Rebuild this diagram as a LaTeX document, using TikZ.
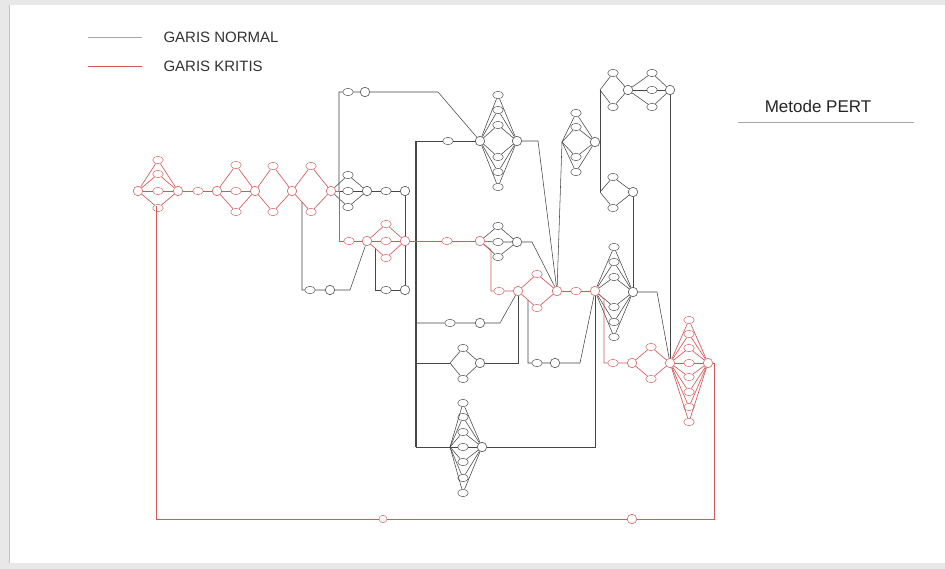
\documentclass[tikz,border=0pt]{standalone}
\usepackage{fontspec}
\setmainfont{Liberation Sans}
\usepackage{tikz}
\usetikzlibrary{shapes.geometric}

\definecolor{critred}{RGB}{212,88,88}
\definecolor{normline}{RGB}{70,70,70}

\tikzset{
    event/.style={
        circle,
        draw=normline,
        fill=white,
        line width=0.55pt,
        minimum size=9.5pt,
        inner sep=0pt
    },
    activity/.style={
        ellipse,
        draw=normline,
        fill=white,
        line width=0.45pt,
        minimum width=10.5pt,
        minimum height=7.5pt,
        inner sep=0pt
    },
    crit/.style={
        draw=critred
    },
    normal/.style={
        draw=normline,
        line width=0.55pt
    },
    critical/.style={
        draw=critred,
        line width=0.65pt
    },
    spine/.style={
        draw=normline,
        line width=1.2pt
    }
}

\begin{document}
\begin{tikzpicture}[x=1pt, y=-1pt]
\useasboundingbox (0,0) rectangle (945,569);
\fill[gray!18] (0,0) rectangle (945,569);
\fill[white] (10,5) rectangle (945,563);
\draw[gray!50] (9.5,5) -- (9.5,563);

% legend
\coordinate (ln1a) at (88,37);
\coordinate (ln1b) at (142,37);
\coordinate (ln2a) at (88,66);
\coordinate (ln2b) at (142,66);
\draw[normal, draw=gray!70] (ln1a) -- (ln1b);
\draw[critical] (ln2a) -- (ln2b);
\node[anchor=west, text=black!80, font=\fontsize{15}{18}\selectfont] (lgnormal) at (160,37) {GARIS NORMAL};
\node[anchor=west, text=black!80, font=\fontsize{15}{18}\selectfont] (lgkritis) at (160,66) {GARIS KRITIS};
\node[text=black!85, font=\fontsize{17}{20}\selectfont] (title) at (818,106) {Metode PERT};
\coordinate (ul1) at (738,122);
\coordinate (ul2) at (914,122);
\draw[gray!70, line width=0.7pt] (ul1) -- (ul2);

% critical chain
\node[event,crit] (e1) at (138,191) {};
\foreach \n/\y in {1/160,2/174,3/191,4/208}
    \node[activity,crit] (A\n) at (158,\y) {};
\node[event,crit] (e2) at (178,191) {};
\node[activity,crit] (ac1) at (198,191) {};
\node[event,crit] (e3) at (217,191) {};
\foreach \n/\y in {1/165,2/191,3/212}
    \node[activity,crit] (B\n) at (236,\y) {};
\node[event,crit] (e4) at (255,191) {};
\foreach \n/\y in {1/166,2/212}
    \node[activity,crit] (C\n) at (273,\y) {};
\node[event,crit] (e5) at (292,191) {};
\foreach \n/\y in {1/166,2/212}
    \node[activity,crit] (D\n) at (311,\y) {};
\node[event,crit] (e6) at (331,191) {};
\coordinate (k9) at (339,191);
\coordinate (k1) at (339,241);
\node[activity,crit] (ac2) at (349,241) {};
\node[event,crit] (e7) at (367,241) {};
\foreach \n/\y in {1/224,2/241,3/258}
    \node[activity,crit] (E\n) at (386,\y) {};
\node[event,crit] (e8) at (405,241) {};
\node[activity,crit] (ac3) at (447,241) {};
\node[event,crit] (e9) at (480,241) {};
\coordinate (k2a) at (491,250);
\coordinate (k2) at (491,291);
\node[activity,crit] (ac4) at (499,291) {};
\node[event,crit] (e10) at (518,291) {};
\foreach \n/\y in {1/274,2/308}
    \node[activity,crit] (F\n) at (537,\y) {};
\node[event,crit] (e11) at (557,291) {};
\node[activity,crit] (ac5) at (576,291) {};
\node[event,crit] (e12) at (595,291) {};
\coordinate (k30) at (604,299);
\coordinate (k3) at (604,363);
\node[activity,crit] (ac6) at (613,363) {};
\node[event,crit] (e13) at (632,363) {};
\foreach \n/\y in {1/347,2/379}
    \node[activity,crit] (G\n) at (651,\y) {};
\node[event,crit] (e14) at (670,363) {};
\foreach \n/\y in {1/320,2/334,3/348,4/363,5/377,6/392,7/407,8/422}
    \node[activity,crit] (H\n) at (689,\y) {};
\node[event,crit] (e15) at (708,363) {};
\coordinate (k4) at (714,519);
\node[event,crit] (e33) at (632,519) {};
\node[activity,crit, minimum width=8pt] (ac7) at (383,519) {};
\coordinate (k5) at (156,519);
\coordinate (k6) at (156,206);

% normal chain
\foreach \n/\y in {1/175,2/191,3/207}
    \node[activity] (I\n) at (348,\y) {};
\node[event] (e16) at (367,191) {};
\node[activity] (ac8) at (386,191) {};
\node[event] (e17) at (405,191) {};
\coordinate (k7) at (339,92);
\node[activity] (ac9) at (348,92) {};
\node[event] (e18) at (365,92) {};
\coordinate (k8) at (438,92);
\coordinate (k10) at (302,202);
\coordinate (k11) at (302,290);
\node[activity] (ac10) at (310,290) {};
\node[event] (e20) at (330,290) {};
\coordinate (k12) at (350,290);
\coordinate (k13) at (375,248);
\coordinate (k14) at (375,290);
\node[activity] (ac11) at (386,290) {};
\node[event] (e21) at (405,290) {};
\coordinate (s1) at (416,141);
\coordinate (s2) at (416,323);
\coordinate (s3) at (416,363);
\coordinate (s4) at (416,447);
\node[activity] (ac12) at (448,141) {};
\node[event] (e19) at (480,141) {};
\foreach \n/\y in {1/95,2/110,3/125,4/157,5/172,6/187}
    \node[activity] (J\n) at (498,\y) {};
\node[event] (e22) at (517,141) {};
\coordinate (k15) at (538,141);
\foreach \n/\y in {1/226,2/242,3/257}
    \node[activity] (K\n) at (498,\y) {};
\node[event] (e23) at (517,242) {};
\coordinate (k16) at (532,242);
\node[activity] (ac13) at (450,323) {};
\node[event] (e24) at (480,323) {};
\coordinate (k17) at (500,323);
\coordinate (k18) at (450,363);
\foreach \n/\y in {1/348,2/379}
    \node[activity] (L\n) at (463,\y) {};
\node[event] (e25) at (480,363) {};
\coordinate (k19) at (518,363);
\coordinate (k20) at (528,300);
\coordinate (k21) at (528,363);
\node[activity] (ac14) at (537,363) {};
\node[event] (e26) at (555,363) {};
\coordinate (k22) at (580,363);
\coordinate (k23) at (450,447);
\foreach \n/\y in {1/403,2/417,3/432,4/447,5/462,6/478,7/493}
    \node[activity] (M\n) at (463,\y) {};
\node[event] (e27) at (482,447) {};
\coordinate (k24) at (595,447);
\coordinate (k25) at (562,142);
\foreach \n/\y in {1/113,2/127,3/157,4/172}
    \node[activity] (N\n) at (576,\y) {};
\node[event] (e28) at (595,142) {};
\coordinate (k27) at (600,90);
\coordinate (k28) at (600,192);
\foreach \n/\y in {1/73,2/107}
    \node[activity] (O\n) at (613,\y) {};
\node[event] (e29) at (628,90) {};
\foreach \n/\y in {1/73,2/90,3/107}
    \node[activity] (P\n) at (652,\y) {};
\node[event] (e30) at (670,90) {};
\foreach \n/\y in {1/177,2/208}
    \node[activity] (Q\n) at (613,\y) {};
\node[event] (e31) at (633,192) {};
\foreach \n/\y in {1/247,2/262,3/277,4/307,5/322,6/337}
    \node[activity] (R\n) at (614,\y) {};
\node[event] (e32) at (633,292) {};
\coordinate (k29) at (657,292);

% connectors, normal
\foreach \n in {1,2,3} \draw[normal] (e6) -- (I\n) -- (e16);
\draw[normal] (e16) -- (ac8) -- (e17);
\draw[normal] (k9) -- (k7) -- (ac9) -- (e18) -- (k8) -- (e19);
\draw[normal] (k10) -- (k11) -- (ac10) -- (e20) -- (k12) -- (e7);
\draw[normal] (k13) -- (k14) -- (ac11) -- (e21);
\draw[normal] (e17) -- (e8) -- (e21);
\draw[spine] (s1) -- (s4);
\draw[normal] (s1) -- (ac12) -- (e19);
\foreach \n in {1,...,6} \draw[normal] (e19) -- (J\n) -- (e22);
\draw[normal] (e22) -- (k15) -- (e11);
\foreach \n in {1,2,3} \draw[normal] (e9) -- (K\n) -- (e23);
\draw[normal] (e23) -- (k16) -- (e11);
\draw[normal] (s2) -- (ac13) -- (e24) -- (k17) -- (e10);
\draw[normal] (s3) -- (k18);
\foreach \n in {1,2} \draw[normal] (k18) -- (L\n) -- (e25);
\draw[normal] (e25) -- (k19) -- (e10);
\draw[normal] (k20) -- (k21) -- (ac14) -- (e26) -- (k22) -- (e12);
\draw[normal] (s4) -- (k23);
\foreach \n in {1,...,7} \draw[normal] (k23) -- (M\n) -- (e27);
\draw[normal] (e27) -- (k24) -- (e12);
\draw[normal] (e11) -- (k25);
\foreach \n in {1,...,4} \draw[normal] (k25) -- (N\n) -- (e28);
\draw[normal] (k27) -- (k28);
\foreach \n in {1,2} \draw[normal] (k27) -- (O\n) -- (e29);
\foreach \n in {1,2,3} \draw[normal] (e29) -- (P\n) -- (e30);
\draw[normal] (e30) -- (e14);
\foreach \n in {1,2} \draw[normal] (k28) -- (Q\n) -- (e31);
\draw[normal] (e31) -- (e32);
\foreach \n in {1,...,6} \draw[normal] (e12) -- (R\n) -- (e32);
\draw[normal] (e32) -- (k29) -- (e14);

% connectors, critical
\foreach \n in {1,...,4} \draw[critical] (e1) -- (A\n) -- (e2);
\draw[critical] (e2) -- (ac1) -- (e3);
\foreach \n in {1,2,3} \draw[critical] (e3) -- (B\n) -- (e4);
\foreach \n in {1,2} \draw[critical] (e4) -- (C\n) -- (e5);
\foreach \n in {1,2} \draw[critical] (e5) -- (D\n) -- (e6);
\draw[critical] (e6) -- (k9) -- (k1) -- (ac2) -- (e7);
\foreach \n in {1,2,3} \draw[critical] (e7) -- (E\n) -- (e8);
\draw[critical] (e8) -- (ac3) -- (e9);
\draw[critical] (e9) -- (k2a) -- (k2) -- (ac4) -- (e10);
\foreach \n in {1,2} \draw[critical] (e10) -- (F\n) -- (e11);
\draw[critical] (e11) -- (ac5) -- (e12);
\draw[critical] (e12) -- (k30) -- (k3) -- (ac6) -- (e13);
\foreach \n in {1,2} \draw[critical] (e13) -- (G\n) -- (e14);
\foreach \n in {1,...,8} \draw[critical] (e14) -- (H\n) -- (e15);
\draw[critical] (e15) -| (k4) -- (e33) -- (ac7) -- (k5) -- (k6);

\end{tikzpicture}
\end{document}
